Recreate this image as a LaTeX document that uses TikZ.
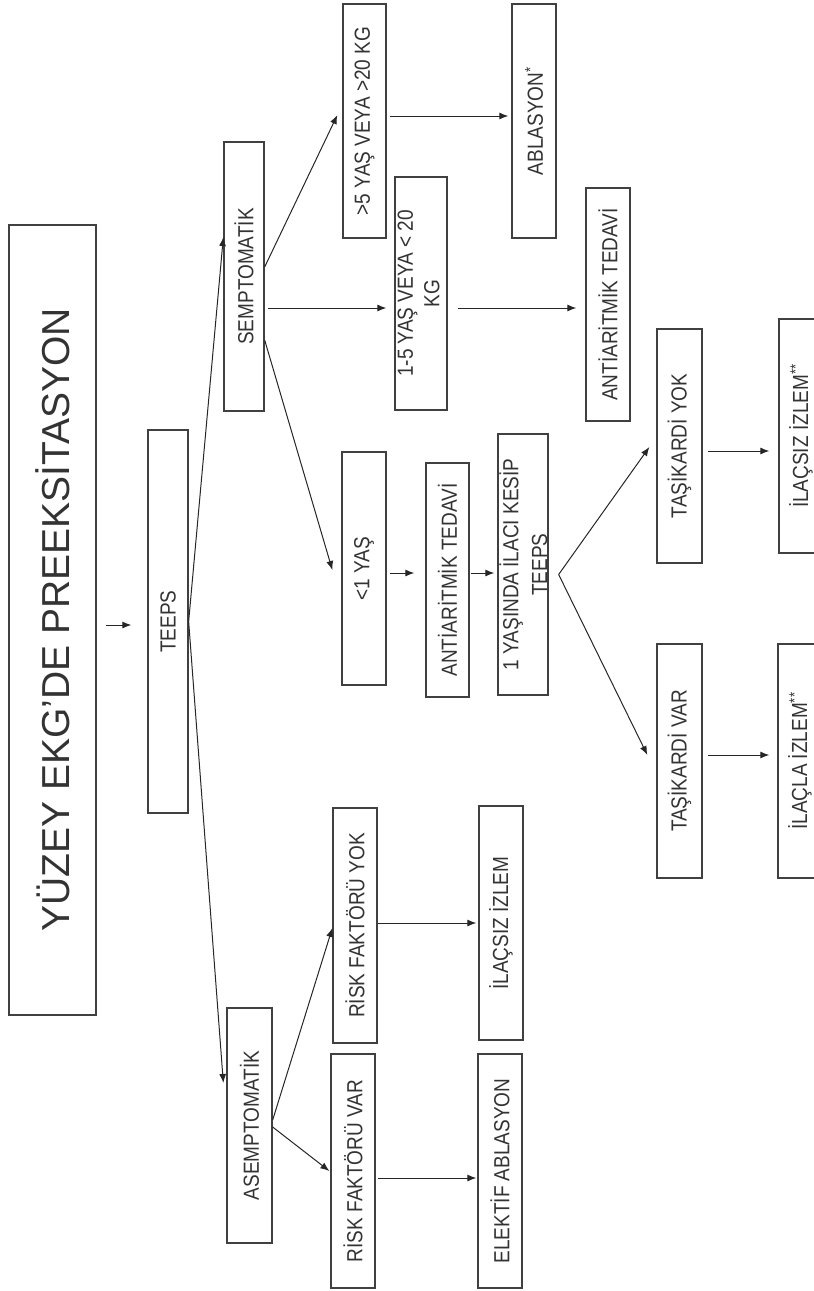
\documentclass[tikz,border=0pt]{standalone}
\usepackage{fontspec}
\setmainfont{Liberation Sans}
\usetikzlibrary{arrows.meta,calc}
\newcommand{\rt}[1]{\rotatebox{90}{\scalebox{1}[1.15]{#1}}}
\newcommand{\rtt}[3]{\rotatebox{90}{\scalebox{1}[1.15]{\begin{tabular}{@{}c@{}}#1\\[#3]#2\end{tabular}}}}
\newcommand{\rtz}[3]{\rotatebox{90}{\raisebox{-9pt}[0pt][0pt]{\scalebox{1}[1.15]{\begin{tabular}{@{}c@{}}#1\\[#3]#2\end{tabular}}}}}
\begin{document}
\begin{tikzpicture}[x=1pt,y=-1pt,
  box/.style={draw=black!75,line width=1.3pt,fill=white,inner sep=0pt,
    minimum width=44pt,minimum height=234pt,text=black!80,
    font=\fontsize{19}{22}\selectfont},
  arr/.style={draw=black!85,line width=1pt,-{Latex[length=9pt,width=7pt]}}]
\useasboundingbox (0,0) rectangle (814,1291);
% nodes
\node[box,minimum width=87pt,minimum height=790pt,font=\fontsize{39}{46}\selectfont] (title) at (52.5,620) {\rotatebox{90}{YÜZEY EKG’DE PREEKSİTASYON}};
\node[box,minimum width=40pt,minimum height=383pt] (teeps) at (168,621.5) {\rt{TEEPS}};
\node[box,minimum width=40pt,minimum height=269pt] (sem) at (244,276.5) {\rt{SEMPTOMATİK}};
\node[box,minimum width=45pt,minimum height=235pt] (asem) at (249.5,1125.5) {\rt{ASEMPTOMATİK}};
\node[box,minimum width=43pt] (a5) at (364.5,121) {\rt{>5 YAŞ VEYA >20 KG}};
\node[box] (abl) at (534,121) {\rt{ABLASYON\textsuperscript{*}}};
\node[box,minimum width=52pt,minimum height=233pt] (a15) at (421,293.5) {\rtt{1-5 YAŞ VEYA < 20}{KG}{1pt}};
\node[box,minimum height=233pt] (anti1) at (608,304.5) {\rt{ANTİARİTMİK TEDAVİ}};
\node[box,minimum height=233pt] (a1) at (364,568.5) {\rt{<1 YAŞ}};
\node[box,minimum width=43pt] (anti2) at (447.5,580) {\rt{ANTİARİTMİK TEDAVİ}};
\node[box,minimum width=50pt,minimum height=261pt] (yas1) at (523,564.5) {\rtz{1 YAŞINDA İLACI KESİP}{TEEPS}{3pt}};
\node[box,minimum width=45pt] (tyok) at (679.5,446) {\rt{TAŞİKARDİ YOK}};
\node[box] (izyok) at (801,436) {\rt{İLAÇSIZ İZLEM\textsuperscript{**}}};
\node[box,minimum width=45pt] (tvar) at (679.5,761) {\rt{TAŞİKARDİ VAR}};
\node[box] (izvar) at (800,761) {\rt{İLAÇLA İZLEM\textsuperscript{**}}};
\node[box,minimum height=235pt] (ryok) at (355,925.5) {\rt{RİSK FAKTÖRÜ YOK}};
\node[box] (izrisk) at (501,923) {\rt{İLAÇSIZ İZLEM}};
\node[box] (rvar) at (353,1171) {\rt{RİSK FAKTÖRÜ VAR}};
\node[box] (elek) at (500,1171) {\rt{ELEKTİF ABLASYON}};
% connectors
\draw[arr] ($(title.east)+(9,5)$) -- ($(teeps.west)+(-16,3.5)$);
\draw[arr] (teeps.east) -- ($(sem.west)+(0,-39.5)$);
\draw[arr] (teeps.east) -- ($(asem.west)+(-3,-42.5)$);
\draw[arr] ($(sem.east)+(0,-9.5)$) -- ($(a5.west)+(-5,-6)$);
\draw[arr] ($(sem.east)+(3,31.5)$) -- ($(a15.west)+(-8,14.5)$);
\draw[arr] ($(sem.east)+(0,63.5)$) -- ($(a1.west)+(-9,1.5)$);
\draw[arr] ($(a5.east)+(3,-5)$) -- ($(abl.west)+(-3,-5)$);
\draw[arr] ($(a15.east)+(10,14.5)$) -- ($(anti1.west)+(-9,3.5)$);
\draw[arr] ($(a1.east)+(3,4.5)$) -- ($(anti2.west)+(-11,-7)$);
\draw[arr] ($(anti2.east)+(1,-7)$) -- ($(yas1.west)+(-3,8.5)$);
\draw[arr] ($(yas1.east)+(10,10)$) -- ($(tyok.west)+(-7,1)$);
\draw[arr] ($(yas1.east)+(10,10)$) -- ($(tvar.west)+(-9,-6)$);
\draw[arr] ($(tyok.east)+(5,5)$) -- ($(izyok.west)+(-9,15)$);
\draw[arr] ($(tvar.east)+(5,-6)$) -- ($(izvar.west)+(-8,-6)$);
\draw[arr] ($(asem.east)+(0,-5.5)$) -- ($(ryok.west)+(0,2.5)$);
\draw[arr] ($(asem.east)+(0,1.5)$) -- ($(rvar.west)+(-1,0)$);
\draw[arr] ($(ryok.east)+(0,-2.5)$) -- ($(izrisk.west)+(-2,0)$);
\draw[arr] ($(rvar.east)+(2,7)$) -- ($(elek.west)+(-1,7)$);
\end{tikzpicture}
\end{document}
